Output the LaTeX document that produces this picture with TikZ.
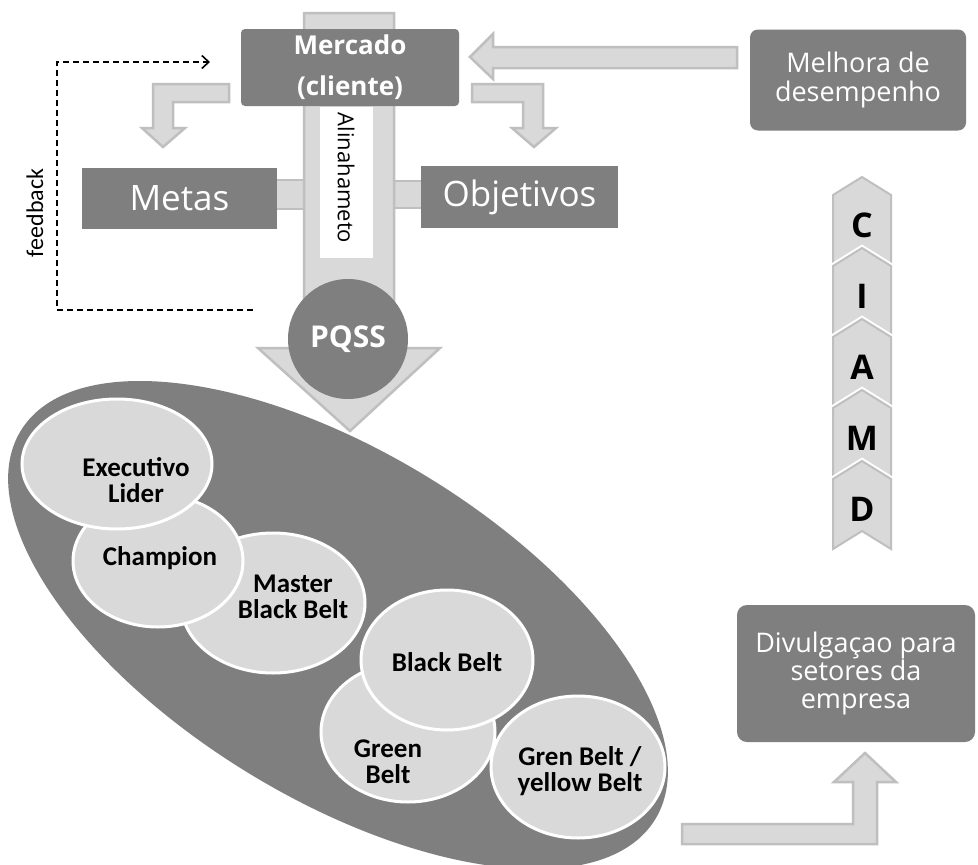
\documentclass[tikz,border=0pt]{standalone}
\usepackage{fontspec}
\setmainfont{Open Sans}
\newfontfamily\calib{Carlito}
\usetikzlibrary{arrows.meta,shapes.geometric}
\definecolor{darkfill}{HTML}{7F7F7F}
\definecolor{lightfill}{HTML}{D9D9D9}
\definecolor{lightedge}{HTML}{BFBFBF}

\begin{document}
\begin{tikzpicture}[x=1pt,y=-1pt,
  darkbox/.style={fill=darkfill,text=white,inner sep=0pt,align=center},
  blockarrow/.style={fill=lightfill,draw=lightedge,line width=2.5pt,line join=miter},
  member/.style={ellipse,fill=lightfill,draw=white,line width=3pt,inner sep=0pt},
  membertext/.style={font=\calib\bfseries\fontsize{27}{26}\selectfont,align=center,inner sep=0pt},
  chevshape/.style={fill=lightfill,draw=lightedge,line width=2pt,preaction={draw=white,line width=6pt}},
  feedline/.style={draw=black,line width=1.6pt,dash pattern=on 6pt off 4pt},
]
\useasboundingbox (0,0) rectangle (978,865);
\fill[white] (0,0) rectangle (978,865);

% team ellipse
\fill[darkfill,rotate around={-31.5:(338,625)}] (338,625) ellipse [x radius=372, y radius=173];

% roles
\node[member,minimum width=184pt,minimum height=140pt] (mbb) at (273,603) {};
\node[member,minimum width=170pt,minimum height=132pt] (champ) at (158,561) {};
\node[member,minimum width=190pt,minimum height=130pt] (exec) at (117,464) {};
\node[member,minimum width=174pt,minimum height=140pt] (green) at (408,732) {};
\node[member,minimum width=172pt,minimum height=140pt] (black) at (447,660) {};
\node[member,minimum width=174pt,minimum height=142pt] (yellow) at (578,767) {};

\node[membertext] (execT) at (136,480) {Executivo\\Lider};
\node[membertext] (champT) at (160,558) {Champion};
\node[membertext] (mbbT) at (293,597) {Master\\Black Belt};
\node[membertext] (blackT) at (447,662) {Black Belt};
\node[membertext] (greenT) at (388,762) {Green\\Belt};
\node[membertext] (yellowT) at (580,771) {Gren Belt /\\yellow Belt};

% side links to the alignment shaft
\filldraw[blockarrow] (270,180) rectangle (306,209);
\filldraw[blockarrow] (393,181) rectangle (428,208);

% alignment shaft and head
\filldraw[blockarrow] (304,13) -- (394,13) -- (394,348) -- (440,348) -- (350,431)
  -- (258,348) -- (304,348) -- cycle;
\node[fill=white,minimum width=53pt,minimum height=151pt,inner sep=0pt] (alinbox) at (346.5,182.5) {};
\node[rotate=-90,inner sep=0pt,font=\fontsize{22}{22}\selectfont] (alin) at (346,178) {Alinahameto};

% boxes
\node[darkbox,minimum width=195pt,minimum height=61pt,font=\fontsize{35}{40}\selectfont] (metas) at (179.5,198.5) {Metas};
\node[darkbox,minimum width=197pt,minimum height=62pt,font=\fontsize{35}{40}\selectfont] (obj) at (519.5,197) {Objetivos};
\node[darkbox,rounded corners=4pt,minimum width=218pt,minimum height=77pt,font=\bfseries\fontsize{26}{41}\selectfont] (merc) at (350,67.5) {Mercado\\(cliente)};
\node[darkbox,rounded corners=8pt,minimum width=216pt,minimum height=101pt,font=\fontsize{27}{29}\selectfont] (melh) at (858,80) {Melhora de\\desempenho};
\node[darkbox,rounded corners=10pt,minimum width=238pt,minimum height=137pt,font=\fontsize{27}{28}\selectfont] (divul) at (856,673.5) {Divulgaçao para\\setores da\\empresa};

\node[circle,fill=darkfill,minimum size=120pt,inner sep=0pt,text=white,font=\bfseries\fontsize{30}{30}\selectfont] (pqss) at (348,339) {PQSS};

% bent arrows out of the market box
\filldraw[blockarrow] (229,84) -- (229,102) -- (173,102) -- (173,128) -- (185,128) -- (163,147)
  -- (142,128) -- (153,128) -- (153,84) -- cycle;
\filldraw[blockarrow] (472,84) -- (543,84) -- (543,128) -- (556,128) -- (534,147) -- (512,128)
  -- (523,128) -- (523,102) -- (472,102) -- cycle;

% performance back to market
\filldraw[blockarrow] (737,47) -- (737,68) -- (493,68) -- (493,79) -- (470,57) -- (493,34)
  -- (493,47) -- cycle;

% team results up to the sectors box
\filldraw[blockarrow] (682,824) -- (853,824) -- (853,782) -- (834,782) -- (865,753) -- (896,782)
  -- (877,782) -- (877,844) -- (682,844) -- cycle;

% DMAIC chevrons
\foreach \L [count=\k from 0] in {C,I,A,M,D} {
  \pgfmathsetmacro\yt{177+71*\k}
  \filldraw[chevshape] (862,\yt) -- (891,\yt+18) -- (891,\yt+88) -- (862,\yt+70)
    -- (833,\yt+88) -- (833,\yt+18) -- cycle;
  \node[font=\bfseries\fontsize{34}{34}\selectfont,inner sep=0pt] (chev\L) at (862,\yt+48) {\L};
}

% feedback loop
\coordinate (fbStart) at (253,310);
\coordinate (fbEnd) at (210,62);
\draw[feedline,-{Straight Barb[length=7pt,width=13pt,line width=1.6pt]}]
  (fbStart) -- (57,310) -- (57,62) -- (fbEnd);
\node[rotate=90,inner sep=0pt,font=\calib\fontsize{24}{24}\selectfont] (fbLabel) at (35,213) {feedback};
\end{tikzpicture}
\end{document}
